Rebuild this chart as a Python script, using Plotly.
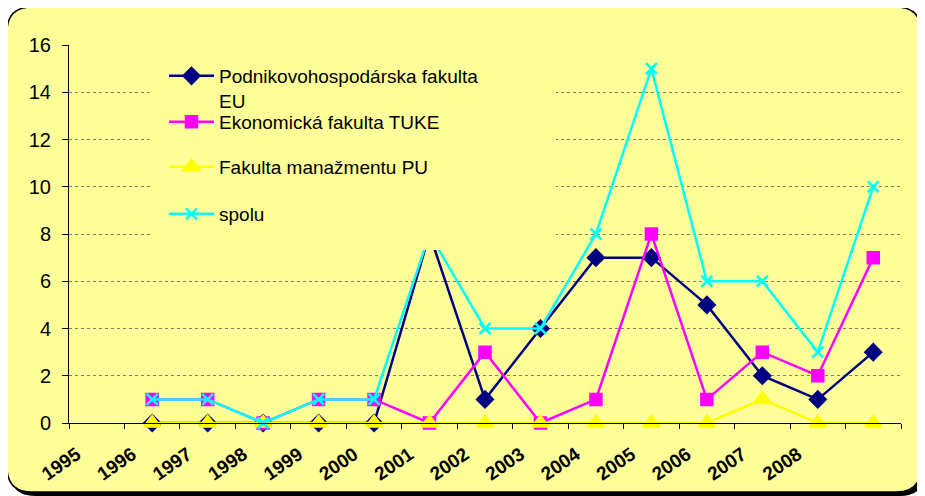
import plotly.graph_objects as go

# slot 1..15 on the category axis; the last slot has no year label
years = ["1995", "1996", "1997", "1998", "1999", "2000", "2001",
         "2002", "2003", "2004", "2005", "2006", "2007", "2008"]
slots = list(range(2, 16))

pf_eu = [0, 0, 0, 0, 0, 8, 1, 4, 7, 7, 5, 2, 1, 3]
ef_tuke = [1, 1, 0, 1, 1, 0, 3, 0, 1, 8, 1, 3, 2, 7]
fm_pu = [0, 0, 0, 0, 0, 0, 0, 0, 0, 0, 0, 1, 0, 0]
spolu = [1, 1, 0, 1, 1, 8, 4, 4, 8, 15, 6, 6, 3, 10]

# the page body adds an 8px margin, so positions below are page pixels minus 8
OFF = 8
W, H = 925 - OFF, 496 - OFF
L, R, T, B = 69 - OFF, 901 - OFF, 45 - OFF, 423 - OFF
BG = "#FFFF99"
FONT = "Liberation Sans, Arial"


def px(x):
    return (x - OFF - L) / (R - L)


def py(y):
    return (B - (y - OFF)) / (B - T)


def rounded(x0, y0, x1, y1, r):
    return (f"M {px(x0 + r)},{py(y0)} L {px(x1 - r)},{py(y0)} "
            f"Q {px(x1)},{py(y0)} {px(x1)},{py(y0 + r)} "
            f"L {px(x1)},{py(y1 - r)} Q {px(x1)},{py(y1)} {px(x1 - r)},{py(y1)} "
            f"L {px(x0 + r)},{py(y1)} Q {px(x0)},{py(y1)} {px(x0)},{py(y1 - r)} "
            f"L {px(x0)},{py(y0 + r)} Q {px(x0)},{py(y0)} {px(x0 + r)},{py(y0)} Z")


fig = go.Figure()
series = [
    ("Podnikovohospodárska fakulta<br>EU", pf_eu, "#000080", "diamond", 12, "legend", 77),
    ("Ekonomická fakulta TUKE", ef_tuke, "#FF00FF", "square", 11, "legend2", 123),
    ("Fakulta manažmentu PU", fm_pu, "#FFFF00", "triangle-up", 14, "legend3", 168),
    ("spolu", spolu, "#00FFFF", "x-thin", 11, "legend4", 215),
]
legends = {}
for name, vals, col, sym, size, leg, ly in series:
    fig.add_trace(go.Scatter(
        x=slots, y=vals, name=name, mode="lines+markers", legend=leg,
        line=dict(color=col, width=2.5),
        marker=dict(symbol=sym, size=size, color=col,
                    line=dict(color=col, width=2.5)),
        cliponaxis=False,
    ))
    legends[leg] = dict(x=px(164), y=py(ly - 20), xanchor="left", yanchor="top",
                        bgcolor="rgba(0,0,0,0)", font=dict(size=19),
                        itemwidth=45, valign="top")

# chart frame with shadow
fig.add_shape(type="path", xref="paper", yref="paper", layer="below",
              path=rounded(10, 10, 925, 496, 25),
              fillcolor="black", line=dict(width=0))
fig.add_shape(type="path", xref="paper", yref="paper", layer="below",
              path=rounded(7, 7, 921, 492, 25),
              fillcolor=BG, line=dict(color="black", width=1.5))
# opaque legend area (covers lines and grid like the original)
fig.add_shape(type="rect", xref="paper", yref="paper", layer="above",
              x0=px(153), x1=px(556), y0=py(250), y1=py(52),
              fillcolor=BG, line=dict(width=0))

fig.update_xaxes(
    range=[0.5, 15.5], tickvals=list(range(1, 15)), ticktext=years,
    ticks="", tickangle=-35, ticklabelshift=-20, ticklabelstandoff=12,
    tickfont=dict(family=FONT, size=19, color="black", weight="bold"),
    showgrid=False, zeroline=False,
    showline=True, linecolor="black", linewidth=1,
    minor=dict(tick0=0.5, dtick=1, ticks="outside", ticklen=5,
               tickcolor="black", showgrid=False),
)
fig.update_yaxes(
    range=[0, 16], dtick=2, ticks="outside", ticklen=6, tickcolor="black",
    ticklabelstandoff=7,
    tickfont=dict(family=FONT, size=20, color="black"),
    showgrid=True, gridcolor="#808060", griddash="dot", gridwidth=1,
    zeroline=False, showline=True, linecolor="black", linewidth=1,
)
fig.update_layout(
    width=W, height=H,
    margin=dict(l=L, r=W - R, t=T, b=H - B),
    paper_bgcolor="white", plot_bgcolor="rgba(0,0,0,0)",
    font=dict(family=FONT, color="black"),
    showlegend=True,
    **legends,
)

fig.write_html("out.html")
